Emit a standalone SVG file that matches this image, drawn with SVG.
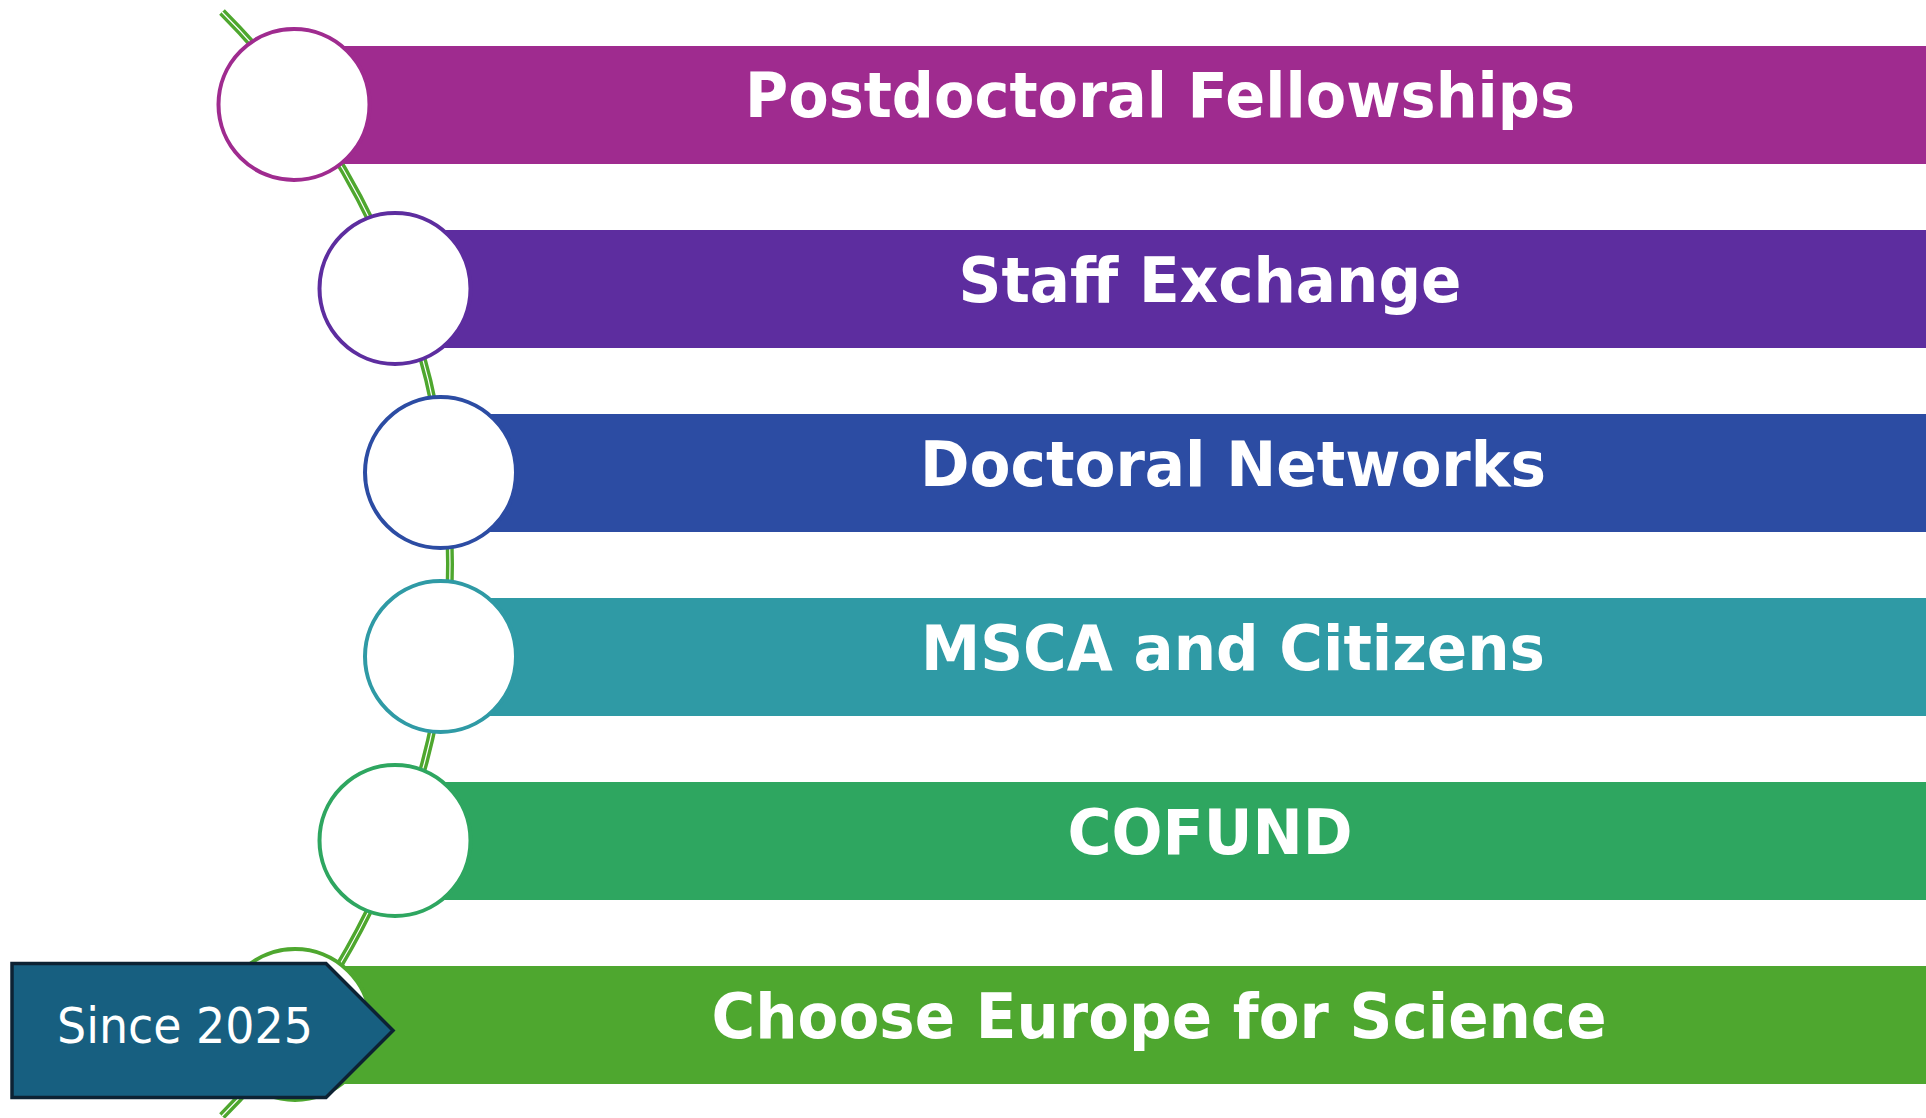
<svg xmlns="http://www.w3.org/2000/svg" width="1926" height="1118" viewBox="0 0 1926 1118">
<style>
.bar-text{font-family:"DejaVu Sans","Liberation Sans",sans-serif;font-weight:bold;font-size:63px;fill:#fff;text-anchor:middle}
.node-circle{fill:#fff;stroke-width:4}
.tag-text{font-family:"DejaVu Sans","Liberation Sans",sans-serif;font-size:50px;fill:#fff;text-anchor:middle}
</style>
<rect width="1926" height="1118" fill="#fff"/>
<g id="bars">
<rect x="294" y="46" width="1632" height="118" fill="#9f2b8f"/>
<rect x="395" y="230" width="1531" height="118" fill="#5d2d9f"/>
<rect x="440" y="414" width="1486" height="118" fill="#2c4ca3"/>
<rect x="440" y="598" width="1486" height="118" fill="#2f9aa5"/>
<rect x="395" y="782" width="1531" height="118" fill="#2ea660"/>
<rect x="294" y="966" width="1632" height="118" fill="#4ea72f"/>
</g>
<g id="connectors">
<path d="M222 12 A782.2 782.2 0 0 1 222 1116" fill="none" stroke="#4ea72e" stroke-width="8"/>
<path d="M222 12 A782.2 782.2 0 0 1 222 1116" fill="none" stroke="#fff" stroke-width="1.2"/>
</g>
<g id="node-postdoctoral">
<circle class="node-circle" cx="294" cy="104.5" r="75.5" stroke="#9f2b8f"/>
<text class="bar-text" x="1160" y="117" textLength="830" lengthAdjust="spacingAndGlyphs">Postdoctoral Fellowships</text>
</g>
<g id="node-staff">
<circle class="node-circle" cx="395" cy="288.5" r="75.5" stroke="#5d2d9f"/>
<text class="bar-text" x="1210" y="301.5" textLength="503" lengthAdjust="spacingAndGlyphs">Staff Exchange</text>
</g>
<g id="node-doctoral">
<circle class="node-circle" cx="440.5" cy="472.5" r="75.5" stroke="#2c4ca3"/>
<text class="bar-text" x="1233" y="485.5" textLength="626" lengthAdjust="spacingAndGlyphs">Doctoral Networks</text>
</g>
<g id="node-citizens">
<circle class="node-circle" cx="440.5" cy="656.5" r="75.5" stroke="#2f9aa5"/>
<text class="bar-text" x="1233" y="669.5" textLength="624" lengthAdjust="spacingAndGlyphs">MSCA and Citizens</text>
</g>
<g id="node-cofund">
<circle class="node-circle" cx="395" cy="840.5" r="75.5" stroke="#2ea660"/>
<text class="bar-text" x="1210" y="853.5" textLength="285" lengthAdjust="spacingAndGlyphs">COFUND</text>
</g>
<g id="node-choose">
<circle class="node-circle" cx="295" cy="1024.5" r="75.5" stroke="#4ea72f"/>
<text class="bar-text" x="1159" y="1038" textLength="895" lengthAdjust="spacingAndGlyphs">Choose Europe for Science</text>
</g>
<g id="node-since">
<polygon points="12,963.5 326,963.5 393,1030.5 326,1097.5 12,1097.5" fill="#175f80" stroke="#0d2233" stroke-width="3.5"/>
<text class="tag-text" x="185" y="1043" textLength="256" lengthAdjust="spacingAndGlyphs">Since 2025</text>
</g>
</svg>
